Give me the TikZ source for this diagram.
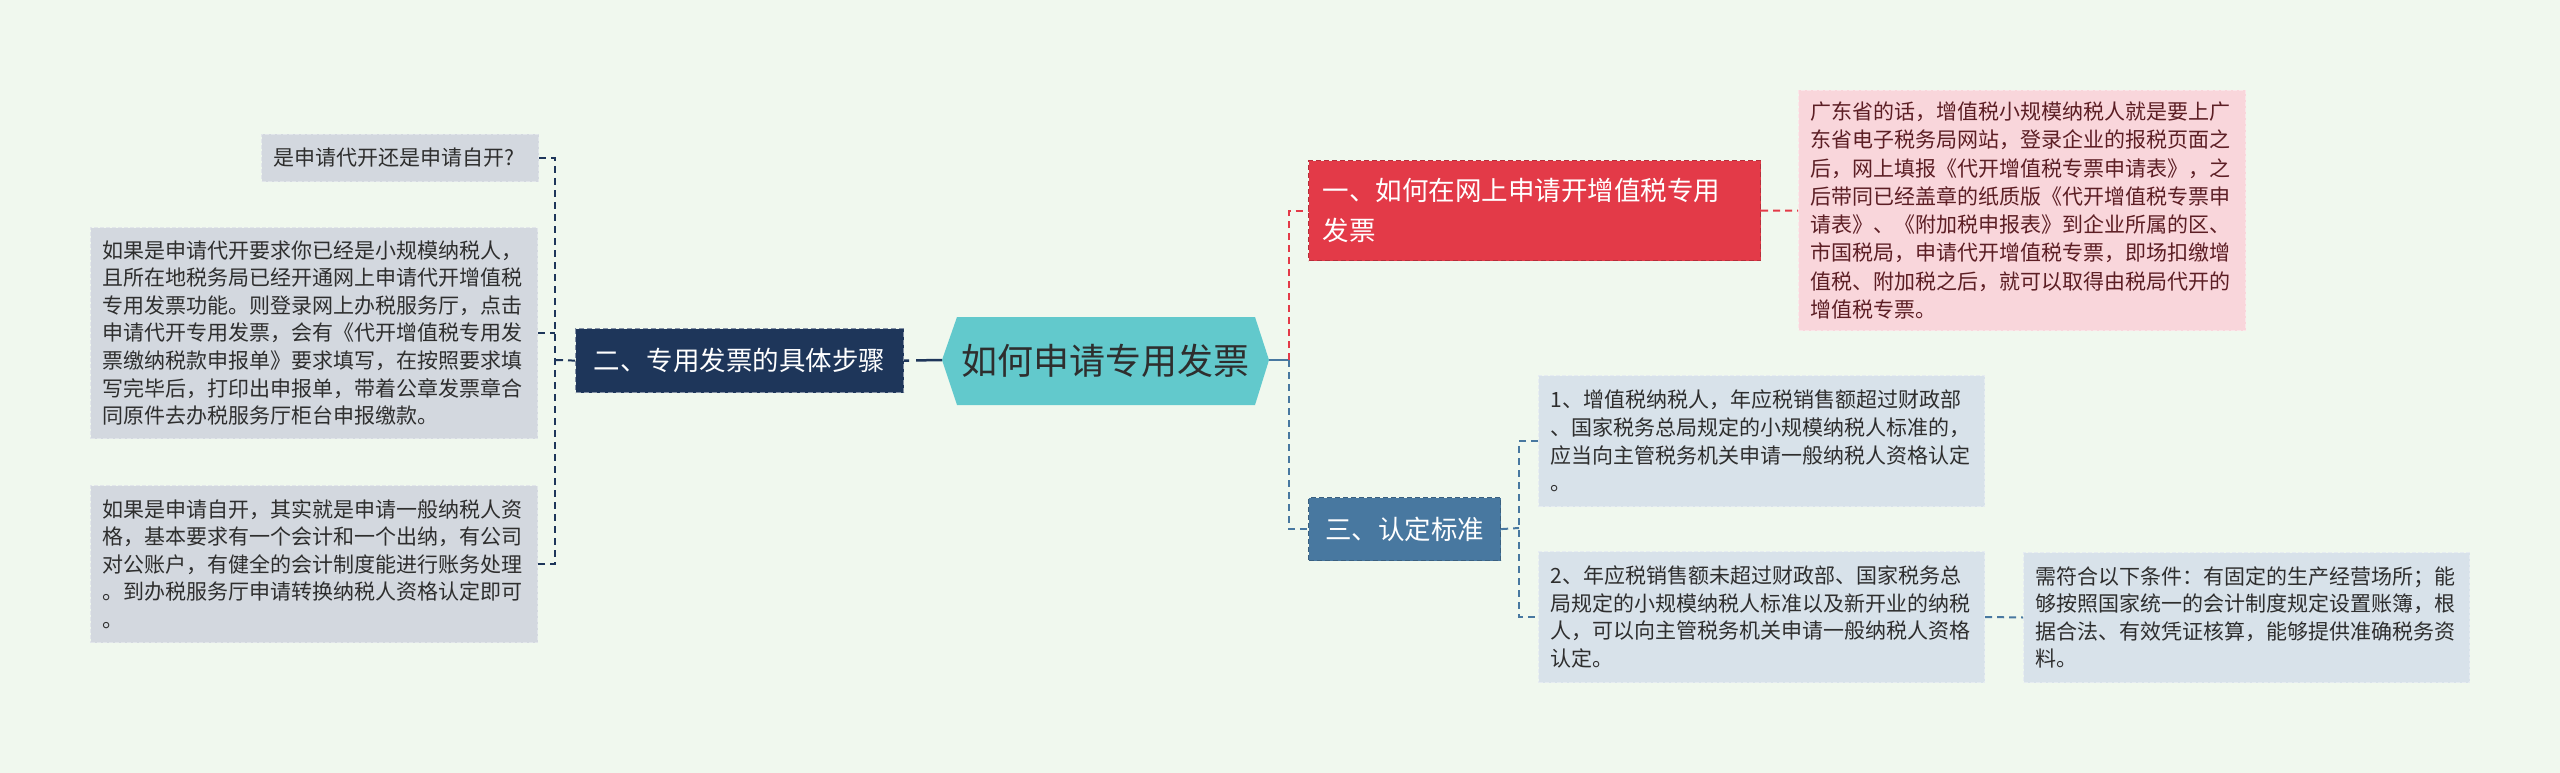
\documentclass[tikz,border=0pt]{standalone}
\usepackage{fontspec}
\setmainfont{Noto Sans CJK SC}
\definecolor{bg}{HTML}{F0F8EE}
\definecolor{txt}{HTML}{2E2E2E}
\definecolor{grayfill}{HTML}{D3D8DF}
\definecolor{grayline}{HTML}{E2E6EA}
\definecolor{bluefill}{HTML}{D8E2EA}
\definecolor{blueline}{HTML}{E6ECF1}
\definecolor{pinkfill}{HTML}{F9D6DB}
\definecolor{pinkline}{HTML}{FBE6E9}
\definecolor{pinktxt}{HTML}{5C1E24}
\definecolor{navy}{HTML}{1E365A}
\definecolor{steel}{HTML}{4878A0}
\definecolor{redn}{HTML}{E33A48}
\definecolor{tealfill}{HTML}{62C9CC}
\tikzset{
  box/.style={draw, dash pattern=on 4pt off 2pt, line width=1pt, anchor=north west,
    inner xsep=12pt, inner ysep=0pt, align=left, text=txt,
    font=\fontsize{21}{27.6}\selectfont},
  lvlone/.style={draw, dash pattern=on 5pt off 3pt, line width=1.2pt, anchor=north west,
    inner xsep=14pt, inner ysep=0pt, text=white,
    font=\fontsize{26.5}{40}\selectfont},
  conn/.style={line width=2pt, dash pattern=on 7pt off 5pt},
}
\begin{document}
\begin{tikzpicture}[x=1pt,y=-1pt]
\fill[bg] (0,0) rectangle (2560,773);
\useasboundingbox (0,0) rectangle (2560,773);

% root hexagon
\fill[tealfill] (942,360) -- (957,317) -- (1255,317) -- (1269,360) -- (1255,405) -- (957,405) -- cycle;
\coordinate (rootW) at (942,360);
\coordinate (rootE) at (1269,360);
\node[text=txt, font=\fontsize{36}{40}\selectfont] (root) at (1105.5,361) {如何申请专用发票};

% level one nodes
\node[lvlone, fill=navy, draw=navy!55!white, minimum width=328, minimum height=64, align=center] (n2) at (575,328) {二、专用发票的具体步骤};
\node[lvlone, fill=redn, draw=redn!80!black, minimum width=452, minimum height=100, text width=424, align=left] (n1) at (1308,160) {一、如何在网上申请开增值税专用\\发票};
\node[lvlone, fill=steel, draw=steel!80!black, minimum width=192, minimum height=63, align=center] (n3) at (1308,497) {三、认定标准};

% left leaves
\node[box, fill=grayfill, draw=grayline, minimum width=277, minimum height=47, text width=253] (q1) at (261,134) {是申请代开还是申请自开?};
\node[box, fill=grayfill, draw=grayline, minimum width=447, minimum height=211, text width=423] (q2) at (90,227) {如果是申请代开要求你已经是小规模纳税人，\\且所在地税务局已经开通网上申请代开增值税\\专用发票功能。则登录网上办税服务厅，点击\\申请代开专用发票，会有《代开增值税专用发\\票缴纳税款申报单》要求填写，在按照要求填\\写完毕后，打印出申报单，带着公章发票章合\\同原件去办税服务厅柜台申报缴款。};
\node[box, fill=grayfill, draw=grayline, minimum width=447, minimum height=157, text width=423] (q3) at (90,485) {如果是申请自开，其实就是申请一般纳税人资\\格，基本要求有一个会计和一个出纳，有公司\\对公账户，有健全的会计制度能进行账务处理\\。到办税服务厅申请转换纳税人资格认定即可\\。};

% right leaves
\node[box, fill=pinkfill, draw=pinkline, text=pinktxt, minimum width=447, minimum height=240, text width=423, font=\fontsize{21}{28.3}\selectfont] (p1) at (1798,90) {广东省的话，增值税小规模纳税人就是要上广\\东省电子税务局网站，登录企业的报税页面之\\后，网上填报《代开增值税专票申请表》，之\\后带同已经盖章的纸质版《代开增值税专票申\\请表》、《附加税申报表》到企业所属的区、\\市国税局，申请代开增值税专票，即场扣缴增\\值税、附加税之后，就可以取得由税局代开的\\增值税专票。};
\node[box, fill=bluefill, draw=blueline, minimum width=446, minimum height=131, text width=422] (c1) at (1538,375) {1、增值税纳税人，年应税销售额超过财政部\\、国家税务总局规定的小规模纳税人标准的，\\应当向主管税务机关申请一般纳税人资格认定\\。};
\node[box, fill=bluefill, draw=blueline, minimum width=446, minimum height=131, text width=422] (c2) at (1538,551) {2、年应税销售额未超过财政部、国家税务总\\局规定的小规模纳税人标准以及新开业的纳税\\人，可以向主管税务机关申请一般纳税人资格\\认定。};
\node[box, fill=bluefill, draw=blueline, minimum width=446, minimum height=130, text width=422] (r1) at (2023,552) {需符合以下条件：有固定的生产经营场所；能\\够按照国家统一的会计制度规定设置账簿，根\\据合法、有效凭证核算，能够提供准确税务资\\料。};

% connectors: root side
\coordinate (jc) at (1289,360);
\draw[steel, line width=2.5pt] (rootE) -- (jc);
\draw[redn, conn] (jc) |- (n1.west);
\draw[steel, conn] (jc) |- (n3.west);
\draw[navy, line width=2.5pt, dash pattern=on 5pt off 7pt on 27pt off 0pt] (n2.east) -- (rootW);

% left side
\coordinate (jl) at (555,360);
\draw[navy, conn] (n2.west) -- (jl);
\draw[navy, conn] (q1.east) -- (q1.east -| jl) -- (q3.east -| jl) -- (q3.east);
\draw[navy, conn] (q2.east) -- (q2.east -| jl);

% n1 to pink
\draw[redn, conn] (n1.east) -- (p1.west);

% n3 side
\coordinate (jr) at (1519,528);
\draw[steel, conn] (n3.east) -- (jr);
\draw[steel, conn] (c1.west) -- (c1.west -| jr) -- (c2.west -| jr) -- (c2.west);
\draw[steel, conn] (c2.east) -- (r1.west);
\end{tikzpicture}
\end{document}
